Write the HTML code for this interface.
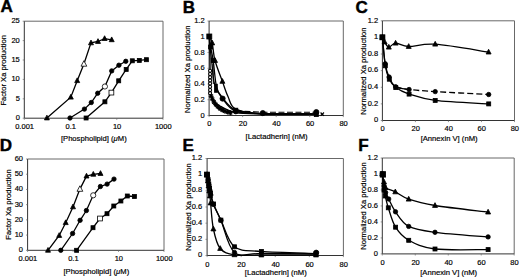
<!DOCTYPE html>
<html><head><meta charset="utf-8"><style>
html,body{margin:0;padding:0;background:#fff;}
svg{display:block;font-family:"Liberation Sans",sans-serif;}
text{fill:#000;stroke:#000;stroke-width:0.18px;} text.big{stroke-width:0.45px;}
</style></head><body>
<svg width="520" height="279" viewBox="0 0 520 279">
<rect width="520" height="279" fill="#fff"/>
<text x="0.4" y="12.4" font-size="17" text-anchor="start" font-weight="bold" class="big">A</text>
<text x="182.8" y="12.6" font-size="17" text-anchor="start" font-weight="bold" class="big">B</text>
<text x="355.6" y="12.6" font-size="17" text-anchor="start" font-weight="bold" class="big">C</text>
<text x="-0.2" y="150.9" font-size="17" text-anchor="start" font-weight="bold" class="big">D</text>
<text x="182.6" y="150.6" font-size="17" text-anchor="start" font-weight="bold" class="big">E</text>
<text x="358.2" y="150.6" font-size="17" text-anchor="start" font-weight="bold" class="big">F</text>
<path d="M24.3,21.2H163V118.2" fill="none" stroke="#686868" stroke-width="1"/>
<path d="M24.3,21.2V118.2H163" fill="none" stroke="#333" stroke-width="1"/>
<line x1="22.7" y1="118.2" x2="24.3" y2="118.2" stroke="#686868" stroke-width="0.7" />
<text x="19.8" y="120.2" font-size="7.5" text-anchor="end" font-weight="normal" >0</text>
<line x1="22.7" y1="98.8" x2="24.3" y2="98.8" stroke="#686868" stroke-width="0.7" />
<text x="19.8" y="100.8" font-size="7.5" text-anchor="end" font-weight="normal" >5</text>
<line x1="22.7" y1="79.4" x2="24.3" y2="79.4" stroke="#686868" stroke-width="0.7" />
<text x="19.8" y="81.4" font-size="7.5" text-anchor="end" font-weight="normal" >10</text>
<line x1="22.7" y1="60" x2="24.3" y2="60" stroke="#686868" stroke-width="0.7" />
<text x="19.8" y="62" font-size="7.5" text-anchor="end" font-weight="normal" >15</text>
<line x1="22.7" y1="40.6" x2="24.3" y2="40.6" stroke="#686868" stroke-width="0.7" />
<text x="19.8" y="42.6" font-size="7.5" text-anchor="end" font-weight="normal" >20</text>
<line x1="22.7" y1="21.2" x2="24.3" y2="21.2" stroke="#686868" stroke-width="0.7" />
<text x="19.8" y="23.2" font-size="7.5" text-anchor="end" font-weight="normal" >25</text>
<line x1="24.3" y1="118.2" x2="24.3" y2="119.8" stroke="#686868" stroke-width="0.7" />
<text x="24.6" y="129.1" font-size="7.5" text-anchor="middle" font-weight="normal" >0.001</text>
<line x1="70.53" y1="118.2" x2="70.53" y2="119.8" stroke="#686868" stroke-width="0.7" />
<text x="70.83" y="129.1" font-size="7.5" text-anchor="middle" font-weight="normal" >0.1</text>
<line x1="116.77" y1="118.2" x2="116.77" y2="119.8" stroke="#686868" stroke-width="0.7" />
<text x="117.07" y="129.1" font-size="7.5" text-anchor="middle" font-weight="normal" >10</text>
<line x1="163" y1="118.2" x2="163" y2="119.8" stroke="#686868" stroke-width="0.7" />
<text x="163.3" y="129.1" font-size="7.5" text-anchor="middle" font-weight="normal" >1000</text>
<text x="0" y="0" font-size="7.6" text-anchor="middle" transform="translate(6.1,70.3) rotate(-90)">Factor Xa production</text>
<text x="93.8" y="141.1" font-size="7.65" text-anchor="middle" font-weight="normal" >[Phospholipid] (<tspan font-style="italic">μ</tspan>M)</text>
<polyline points="46.9,118 70.8,97.2 77.2,80.7 83.9,64 91,42.9 98,41.5 104.6,38.6 111.7,39.8" fill="none" stroke="#000" stroke-width="1.3"/>
<polygon points="46.9,115.15 44.4,119.9 49.4,119.9" fill="#000" stroke="#000" stroke-width="0.8" stroke-linejoin="round"/>
<polygon points="70.8,94.35 68.3,99.1 73.3,99.1" fill="#000" stroke="#000" stroke-width="0.8" stroke-linejoin="round"/>
<polygon points="77.2,77.85 74.7,82.6 79.7,82.6" fill="#000" stroke="#000" stroke-width="0.8" stroke-linejoin="round"/>
<polygon points="83.9,60.69 81,66.2 86.8,66.2" fill="#fff" stroke="#000" stroke-width="0.8" stroke-linejoin="round"/>
<polygon points="91,40.05 88.5,44.8 93.5,44.8" fill="#000" stroke="#000" stroke-width="0.8" stroke-linejoin="round"/>
<polygon points="98,38.65 95.5,43.4 100.5,43.4" fill="#000" stroke="#000" stroke-width="0.8" stroke-linejoin="round"/>
<polygon points="104.6,35.75 102.1,40.5 107.1,40.5" fill="#000" stroke="#000" stroke-width="0.8" stroke-linejoin="round"/>
<polygon points="111.7,36.95 109.2,41.7 114.2,41.7" fill="#000" stroke="#000" stroke-width="0.8" stroke-linejoin="round"/>
<polyline points="70,118 84.4,109.1 91.3,102.5 97.7,93.2 104.9,86.5 111.7,70.9 118.9,65.2 125.8,61.3" fill="none" stroke="#000" stroke-width="1.3"/>
<circle cx="70" cy="118" r="2.2" fill="#000" stroke="#000" stroke-width="0.8"/>
<circle cx="84.4" cy="109.1" r="2.2" fill="#000" stroke="#000" stroke-width="0.8"/>
<circle cx="91.3" cy="102.5" r="2.2" fill="#000" stroke="#000" stroke-width="0.8"/>
<circle cx="97.7" cy="93.2" r="2.2" fill="#000" stroke="#000" stroke-width="0.8"/>
<circle cx="104.9" cy="86.5" r="2.6" fill="#fff" stroke="#000" stroke-width="0.8"/>
<circle cx="111.7" cy="70.9" r="2.2" fill="#000" stroke="#000" stroke-width="0.8"/>
<circle cx="118.9" cy="65.2" r="2.2" fill="#000" stroke="#000" stroke-width="0.8"/>
<circle cx="125.8" cy="61.3" r="2.2" fill="#000" stroke="#000" stroke-width="0.8"/>
<polyline points="86.1,118 104.9,101.8 111.4,92.6 118.7,80.8 126.2,69.4 132.3,60.8 139.3,60.4 146.4,59.7" fill="none" stroke="#000" stroke-width="1.3"/>
<rect x="84.1" y="116" width="4" height="4" fill="#000" stroke="#000" stroke-width="0.8"/>
<rect x="102.9" y="99.8" width="4" height="4" fill="#000" stroke="#000" stroke-width="0.8"/>
<rect x="109" y="90.2" width="4.8" height="4.8" fill="#fff" stroke="#000" stroke-width="0.8"/>
<rect x="116.7" y="78.8" width="4" height="4" fill="#000" stroke="#000" stroke-width="0.8"/>
<rect x="124.2" y="67.4" width="4" height="4" fill="#000" stroke="#000" stroke-width="0.8"/>
<rect x="130.3" y="58.8" width="4" height="4" fill="#000" stroke="#000" stroke-width="0.8"/>
<rect x="137.3" y="58.4" width="4" height="4" fill="#000" stroke="#000" stroke-width="0.8"/>
<rect x="144.4" y="57.7" width="4" height="4" fill="#000" stroke="#000" stroke-width="0.8"/>
<path d="M27.6,159H164V250.3" fill="none" stroke="#686868" stroke-width="1"/>
<path d="M27.6,159V250.3H164" fill="none" stroke="#333" stroke-width="1"/>
<line x1="26" y1="250.3" x2="27.6" y2="250.3" stroke="#686868" stroke-width="0.7" />
<text x="23" y="252.3" font-size="7.5" text-anchor="end" font-weight="normal" >0</text>
<line x1="26" y1="235.08" x2="27.6" y2="235.08" stroke="#686868" stroke-width="0.7" />
<text x="23" y="237.08" font-size="7.5" text-anchor="end" font-weight="normal" >10</text>
<line x1="26" y1="219.87" x2="27.6" y2="219.87" stroke="#686868" stroke-width="0.7" />
<text x="23" y="221.87" font-size="7.5" text-anchor="end" font-weight="normal" >20</text>
<line x1="26" y1="204.65" x2="27.6" y2="204.65" stroke="#686868" stroke-width="0.7" />
<text x="23" y="206.65" font-size="7.5" text-anchor="end" font-weight="normal" >30</text>
<line x1="26" y1="189.43" x2="27.6" y2="189.43" stroke="#686868" stroke-width="0.7" />
<text x="23" y="191.43" font-size="7.5" text-anchor="end" font-weight="normal" >40</text>
<line x1="26" y1="174.22" x2="27.6" y2="174.22" stroke="#686868" stroke-width="0.7" />
<text x="23" y="176.22" font-size="7.5" text-anchor="end" font-weight="normal" >50</text>
<line x1="26" y1="159" x2="27.6" y2="159" stroke="#686868" stroke-width="0.7" />
<text x="23" y="161" font-size="7.5" text-anchor="end" font-weight="normal" >60</text>
<line x1="27.6" y1="250.3" x2="27.6" y2="251.9" stroke="#686868" stroke-width="0.7" />
<text x="27.9" y="261.3" font-size="7.5" text-anchor="middle" font-weight="normal" >0.001</text>
<line x1="73.07" y1="250.3" x2="73.07" y2="251.9" stroke="#686868" stroke-width="0.7" />
<text x="73.37" y="261.3" font-size="7.5" text-anchor="middle" font-weight="normal" >0.1</text>
<line x1="118.53" y1="250.3" x2="118.53" y2="251.9" stroke="#686868" stroke-width="0.7" />
<text x="118.83" y="261.3" font-size="7.5" text-anchor="middle" font-weight="normal" >10</text>
<line x1="164" y1="250.3" x2="164" y2="251.9" stroke="#686868" stroke-width="0.7" />
<text x="164.3" y="261.3" font-size="7.5" text-anchor="middle" font-weight="normal" >1000</text>
<text x="0" y="0" font-size="7.6" text-anchor="middle" transform="translate(10.6,204.5) rotate(-90)">Factor Xa production</text>
<text x="96.3" y="273.5" font-size="7.65" text-anchor="middle" font-weight="normal" >[Phospholipid] (<tspan font-style="italic">μ</tspan>M)</text>
<polyline points="48,250.3 59.2,235.5 65.7,222.7 73,206.9 79.9,189.1 86.5,176.1 93.3,174.3 100.5,173.5" fill="none" stroke="#000" stroke-width="1.3"/>
<polygon points="48,247.45 45.5,252.2 50.5,252.2" fill="#000" stroke="#000" stroke-width="0.8" stroke-linejoin="round"/>
<polygon points="59.2,232.65 56.7,237.4 61.7,237.4" fill="#000" stroke="#000" stroke-width="0.8" stroke-linejoin="round"/>
<polygon points="65.7,219.85 63.2,224.6 68.2,224.6" fill="#000" stroke="#000" stroke-width="0.8" stroke-linejoin="round"/>
<polygon points="73,204.05 70.5,208.8 75.5,208.8" fill="#000" stroke="#000" stroke-width="0.8" stroke-linejoin="round"/>
<polygon points="79.9,185.79 77,191.3 82.8,191.3" fill="#fff" stroke="#000" stroke-width="0.8" stroke-linejoin="round"/>
<polygon points="86.5,173.25 84,178 89,178" fill="#000" stroke="#000" stroke-width="0.8" stroke-linejoin="round"/>
<polygon points="93.3,171.45 90.8,176.2 95.8,176.2" fill="#000" stroke="#000" stroke-width="0.8" stroke-linejoin="round"/>
<polygon points="100.5,170.65 98,175.4 103,175.4" fill="#000" stroke="#000" stroke-width="0.8" stroke-linejoin="round"/>
<polyline points="60.8,250.3 72.6,233.5 80.1,220.3 86.4,210.5 93.2,195.3 100.4,186.5 107.1,184.1 114,179.1" fill="none" stroke="#000" stroke-width="1.3"/>
<circle cx="60.8" cy="250.3" r="2.2" fill="#000" stroke="#000" stroke-width="0.8"/>
<circle cx="72.6" cy="233.5" r="2.2" fill="#000" stroke="#000" stroke-width="0.8"/>
<circle cx="80.1" cy="220.3" r="2.2" fill="#000" stroke="#000" stroke-width="0.8"/>
<circle cx="86.4" cy="210.5" r="2.2" fill="#000" stroke="#000" stroke-width="0.8"/>
<circle cx="93.2" cy="195.3" r="2.6" fill="#fff" stroke="#000" stroke-width="0.8"/>
<circle cx="100.4" cy="186.5" r="2.2" fill="#000" stroke="#000" stroke-width="0.8"/>
<circle cx="107.1" cy="184.1" r="2.2" fill="#000" stroke="#000" stroke-width="0.8"/>
<circle cx="114" cy="179.1" r="2.2" fill="#000" stroke="#000" stroke-width="0.8"/>
<polyline points="76.6,250.3 93,227.7 100,218.5 107,213.7 113.8,206 120.9,201 127.3,196 134.4,196.5" fill="none" stroke="#000" stroke-width="1.3"/>
<rect x="74.6" y="248.3" width="4" height="4" fill="#000" stroke="#000" stroke-width="0.8"/>
<rect x="91" y="225.7" width="4" height="4" fill="#000" stroke="#000" stroke-width="0.8"/>
<rect x="97.6" y="216.1" width="4.8" height="4.8" fill="#fff" stroke="#000" stroke-width="0.8"/>
<rect x="105" y="211.7" width="4" height="4" fill="#000" stroke="#000" stroke-width="0.8"/>
<rect x="111.8" y="204" width="4" height="4" fill="#000" stroke="#000" stroke-width="0.8"/>
<rect x="118.9" y="199" width="4" height="4" fill="#000" stroke="#000" stroke-width="0.8"/>
<rect x="125.3" y="194" width="4" height="4" fill="#000" stroke="#000" stroke-width="0.8"/>
<rect x="132.4" y="194.5" width="4" height="4" fill="#000" stroke="#000" stroke-width="0.8"/>
<path d="M209.1,21H343.3V115.5" fill="none" stroke="#686868" stroke-width="1"/>
<path d="M209.1,21V115.5H343.3" fill="none" stroke="#333" stroke-width="1"/>
<line x1="207.5" y1="115.5" x2="209.1" y2="115.5" stroke="#686868" stroke-width="0.7" />
<text x="204.6" y="117.5" font-size="7.5" text-anchor="end" font-weight="normal" >0</text>
<line x1="207.5" y1="99.75" x2="209.1" y2="99.75" stroke="#686868" stroke-width="0.7" />
<text x="204.6" y="101.75" font-size="7.5" text-anchor="end" font-weight="normal" >0.2</text>
<line x1="207.5" y1="84" x2="209.1" y2="84" stroke="#686868" stroke-width="0.7" />
<text x="204.6" y="86" font-size="7.5" text-anchor="end" font-weight="normal" >0.4</text>
<line x1="207.5" y1="68.25" x2="209.1" y2="68.25" stroke="#686868" stroke-width="0.7" />
<text x="204.6" y="70.25" font-size="7.5" text-anchor="end" font-weight="normal" >0.6</text>
<line x1="207.5" y1="52.5" x2="209.1" y2="52.5" stroke="#686868" stroke-width="0.7" />
<text x="204.6" y="54.5" font-size="7.5" text-anchor="end" font-weight="normal" >0.8</text>
<line x1="207.5" y1="36.75" x2="209.1" y2="36.75" stroke="#686868" stroke-width="0.7" />
<text x="204.6" y="38.75" font-size="7.5" text-anchor="end" font-weight="normal" >1</text>
<line x1="207.5" y1="21" x2="209.1" y2="21" stroke="#686868" stroke-width="0.7" />
<text x="204.6" y="23" font-size="7.5" text-anchor="end" font-weight="normal" >1.2</text>
<line x1="209.1" y1="115.5" x2="209.1" y2="117.1" stroke="#686868" stroke-width="0.7" />
<text x="209.4" y="126.2" font-size="7.5" text-anchor="middle" font-weight="normal" >0</text>
<line x1="242.65" y1="115.5" x2="242.65" y2="117.1" stroke="#686868" stroke-width="0.7" />
<text x="242.95" y="126.2" font-size="7.5" text-anchor="middle" font-weight="normal" >20</text>
<line x1="276.2" y1="115.5" x2="276.2" y2="117.1" stroke="#686868" stroke-width="0.7" />
<text x="276.5" y="126.2" font-size="7.5" text-anchor="middle" font-weight="normal" >40</text>
<line x1="309.75" y1="115.5" x2="309.75" y2="117.1" stroke="#686868" stroke-width="0.7" />
<text x="310.05" y="126.2" font-size="7.5" text-anchor="middle" font-weight="normal" >60</text>
<line x1="343.3" y1="115.5" x2="343.3" y2="117.1" stroke="#686868" stroke-width="0.7" />
<text x="343.6" y="126.2" font-size="7.5" text-anchor="middle" font-weight="normal" >80</text>
<text x="0" y="0" font-size="7.6" text-anchor="middle" transform="translate(189.8,69.25) rotate(-90)">Normalized Xa production</text>
<text x="276.6" y="138.5" font-size="7.65" text-anchor="middle" font-weight="normal" >[Lactadherin] (nM)</text>
<polyline points="236,111 262.8,112.2 316.3,112.3 322.3,114.2" fill="none" stroke="#000" stroke-width="1.1" stroke-dasharray="6,2.5"/>
<path d="M209.3,36.5 C209.78,37.58 211.25,39 212.2,43 C213.15,47 213.3,54.1 215,60.5 C216.7,66.9 220.23,75.4 222.4,81.4 C224.57,87.4 225.77,91.87 228,96.5 C230.23,101.13 230,106.3 235.8,109.2 C241.6,112.1 249.38,113.08 262.8,113.9 C276.22,114.72 307.38,114.07 316.3,114.1" fill="none" stroke="#000" stroke-width="1.3"/>
<path d="M209.3,36.5 C209.52,38.25 209.95,43 210.6,47 C211.25,51 212.2,53.8 213.2,60.5 C214.2,67.2 215.07,81.03 216.6,87.2 C218.13,93.37 219.2,93.67 222.4,97.5 C225.6,101.33 229.07,107.45 235.8,110.2 C242.53,112.95 249.38,113.33 262.8,114 C276.22,114.67 307.38,114.17 316.3,114.2" fill="none" stroke="#000" stroke-width="1.3"/>
<path d="M209.3,36.5 C209.45,38.42 209.78,43.75 210.2,48 C210.62,52.25 211.08,56 211.8,62 C212.52,68 212.7,77.9 214.5,84 C216.3,90.1 219.05,94.05 222.6,98.6 C226.15,103.15 229.1,108.83 235.8,111.3 C242.5,113.77 249.38,112.98 262.8,113.4 C276.22,113.82 307.38,113.73 316.3,113.8" fill="none" stroke="#000" stroke-width="1.3"/>
<path d="M209.3,36.5 C209.4,39.58 209.77,49.42 209.9,55 C210.03,60.58 210.05,63.83 210.1,70 C210.15,76.17 209.78,87.17 210.2,92 C210.62,96.83 210.97,96.67 212.6,99 C214.23,101.33 216.13,103.73 220,106 C223.87,108.27 228.67,111.27 235.8,112.6 C242.93,113.93 258.3,113.77 262.8,114" fill="none" stroke="#000" stroke-width="1.3"/>
<circle cx="210.1" cy="70.8" r="1.55" fill="#fff" stroke="#000" stroke-width="1.05"/>
<circle cx="210.1" cy="74.0" r="1.55" fill="#fff" stroke="#000" stroke-width="1.05"/>
<circle cx="210.1" cy="77.2" r="1.55" fill="#fff" stroke="#000" stroke-width="1.05"/>
<circle cx="210.1" cy="80.4" r="1.55" fill="#fff" stroke="#000" stroke-width="1.05"/>
<circle cx="210.1" cy="83.6" r="1.55" fill="#fff" stroke="#000" stroke-width="1.05"/>
<circle cx="210.1" cy="86.8" r="1.55" fill="#fff" stroke="#000" stroke-width="1.05"/>
<circle cx="210.1" cy="90.0" r="1.55" fill="#fff" stroke="#000" stroke-width="1.05"/>
<circle cx="210.1" cy="93.2" r="1.55" fill="#fff" stroke="#000" stroke-width="1.05"/>
<path d="M208.7,96.2L213.7,96.2M211.2,93.7L211.2,98.7M209.45,94.45L212.95,97.95M209.45,97.95L212.95,94.45" stroke="#000" stroke-width="1.1"/>
<path d="M209.9,99.2L214.9,99.2M212.4,96.7L212.4,101.7M210.65,97.45L214.15,100.95M210.65,100.95L214.15,97.45" stroke="#000" stroke-width="1.1"/>
<path d="M211.4,102L216.4,102M213.9,99.5L213.9,104.5M212.15,100.25L215.65,103.75M212.15,103.75L215.65,100.25" stroke="#000" stroke-width="1.1"/>
<path d="M213.2,104.5L218.2,104.5M215.7,102L215.7,107M213.95,102.75L217.45,106.25M213.95,106.25L217.45,102.75" stroke="#000" stroke-width="1.1"/>
<path d="M215.2,106.7L220.2,106.7M217.7,104.2L217.7,109.2M215.95,104.95L219.45,108.45M215.95,108.45L219.45,104.95" stroke="#000" stroke-width="1.1"/>
<path d="M217.4,108.5L222.4,108.5M219.9,106L219.9,111M218.15,106.75L221.65,110.25M218.15,110.25L221.65,106.75" stroke="#000" stroke-width="1.1"/>
<path d="M219.8,110L224.8,110M222.3,107.5L222.3,112.5M220.55,108.25L224.05,111.75M220.55,111.75L224.05,108.25" stroke="#000" stroke-width="1.1"/>
<path d="M222.4,111.2L227.4,111.2M224.9,108.7L224.9,113.7M223.15,109.45L226.65,112.95M223.15,112.95L226.65,109.45" stroke="#000" stroke-width="1.1"/>
<path d="M225.1,112.1L230.1,112.1M227.6,109.6L227.6,114.6M225.85,110.35L229.35,113.85M225.85,113.85L229.35,110.35" stroke="#000" stroke-width="1.1"/>
<path d="M227.9,112.8L232.9,112.8M230.4,110.3L230.4,115.3M228.65,111.05L232.15,114.55M228.65,114.55L232.15,111.05" stroke="#000" stroke-width="1.1"/>
<polygon points="212.2,40.15 209.7,44.9 214.7,44.9" fill="#000" stroke="#000" stroke-width="0.8" stroke-linejoin="round"/>
<polygon points="215,57.65 212.5,62.4 217.5,62.4" fill="#000" stroke="#000" stroke-width="0.8" stroke-linejoin="round"/>
<polygon points="222.4,78.55 219.9,83.3 224.9,83.3" fill="#000" stroke="#000" stroke-width="0.8" stroke-linejoin="round"/>
<rect x="208.6" y="45" width="4" height="4" fill="#000" stroke="#000" stroke-width="0.8"/>
<rect x="211.2" y="58.5" width="4" height="4" fill="#000" stroke="#000" stroke-width="0.8"/>
<rect x="233.8" y="108.2" width="4" height="4" fill="#000" stroke="#000" stroke-width="0.8"/>
<rect x="314.3" y="112.6" width="4" height="4" fill="#000" stroke="#000" stroke-width="0.8"/>
<rect x="214.1" y="83.8" width="3.7" height="9" fill="#000"/>
<line x1="213.1" y1="64" x2="213.3" y2="84" stroke="#000" stroke-width="0.9" />
<circle cx="222.6" cy="98.6" r="2.6" fill="#000" stroke="#000" stroke-width="0.8"/>
<circle cx="235.8" cy="111.3" r="2.6" fill="#000" stroke="#000" stroke-width="0.8"/>
<circle cx="262.8" cy="113.1" r="2.6" fill="#000" stroke="#000" stroke-width="0.8"/>
<circle cx="316.3" cy="112.1" r="2.6" fill="#000" stroke="#000" stroke-width="0.8"/>
<path d="M320.6,112.5L324,115.9M320.6,115.9L324,112.5" stroke="#000" stroke-width="1.1"/>
<rect x="206.8" y="34" width="5" height="5" fill="#000" stroke="#000" stroke-width="0.8"/>
<path d="M382.4,20.8H514.5V120.5" fill="none" stroke="#686868" stroke-width="1"/>
<path d="M382.4,20.8V120.5H514.5" fill="none" stroke="#333" stroke-width="1"/>
<line x1="380.8" y1="120.5" x2="382.4" y2="120.5" stroke="#686868" stroke-width="0.7" />
<text x="378.1" y="122.3" font-size="7.5" text-anchor="end" font-weight="normal" >0</text>
<line x1="380.8" y1="103.88" x2="382.4" y2="103.88" stroke="#686868" stroke-width="0.7" />
<text x="378.1" y="105.68" font-size="7.5" text-anchor="end" font-weight="normal" >0.2</text>
<line x1="380.8" y1="87.27" x2="382.4" y2="87.27" stroke="#686868" stroke-width="0.7" />
<text x="378.1" y="89.07" font-size="7.5" text-anchor="end" font-weight="normal" >0.4</text>
<line x1="380.8" y1="70.65" x2="382.4" y2="70.65" stroke="#686868" stroke-width="0.7" />
<text x="378.1" y="72.45" font-size="7.5" text-anchor="end" font-weight="normal" >0.6</text>
<line x1="380.8" y1="54.03" x2="382.4" y2="54.03" stroke="#686868" stroke-width="0.7" />
<text x="378.1" y="55.83" font-size="7.5" text-anchor="end" font-weight="normal" >0.8</text>
<line x1="380.8" y1="37.42" x2="382.4" y2="37.42" stroke="#686868" stroke-width="0.7" />
<text x="378.1" y="39.22" font-size="7.5" text-anchor="end" font-weight="normal" >1</text>
<line x1="380.8" y1="20.8" x2="382.4" y2="20.8" stroke="#686868" stroke-width="0.7" />
<text x="378.1" y="22.6" font-size="7.5" text-anchor="end" font-weight="normal" >1.2</text>
<line x1="382.4" y1="120.5" x2="382.4" y2="122.1" stroke="#686868" stroke-width="0.7" />
<text x="382.7" y="131.1" font-size="7.5" text-anchor="middle" font-weight="normal" >0</text>
<line x1="415.42" y1="120.5" x2="415.42" y2="122.1" stroke="#686868" stroke-width="0.7" />
<text x="415.72" y="131.1" font-size="7.5" text-anchor="middle" font-weight="normal" >20</text>
<line x1="448.45" y1="120.5" x2="448.45" y2="122.1" stroke="#686868" stroke-width="0.7" />
<text x="448.75" y="131.1" font-size="7.5" text-anchor="middle" font-weight="normal" >40</text>
<line x1="481.48" y1="120.5" x2="481.48" y2="122.1" stroke="#686868" stroke-width="0.7" />
<text x="481.78" y="131.1" font-size="7.5" text-anchor="middle" font-weight="normal" >60</text>
<line x1="514.5" y1="120.5" x2="514.5" y2="122.1" stroke="#686868" stroke-width="0.7" />
<text x="514.8" y="131.1" font-size="7.5" text-anchor="middle" font-weight="normal" >80</text>
<text x="0" y="0" font-size="7.6" text-anchor="middle" transform="translate(365.5,71.15) rotate(-90)">Normalized Xa production</text>
<text x="449.1" y="140.7" font-size="7.65" text-anchor="middle" font-weight="normal" >[Annexin V] (nM)</text>
<path d="M382.4,37.3 C382.77,38.08 383.53,40.35 384.6,42 C385.67,43.65 386.97,47 388.8,47.2 C390.63,47.4 392.28,43.32 395.6,43.2 C398.92,43.08 402.1,46.33 408.7,46.5 C415.3,46.67 421.88,43.27 435.2,44.2 C448.52,45.13 479.7,50.78 488.6,52.1" fill="none" stroke="#000" stroke-width="1.3"/>
<polygon points="382.4,34.45 379.9,39.2 384.9,39.2" fill="#000" stroke="#000" stroke-width="0.8" stroke-linejoin="round"/>
<polygon points="384.6,39.15 382.1,43.9 387.1,43.9" fill="#000" stroke="#000" stroke-width="0.8" stroke-linejoin="round"/>
<polygon points="388.8,44.35 386.3,49.1 391.3,49.1" fill="#000" stroke="#000" stroke-width="0.8" stroke-linejoin="round"/>
<polygon points="395.6,40.35 393.1,45.1 398.1,45.1" fill="#000" stroke="#000" stroke-width="0.8" stroke-linejoin="round"/>
<polygon points="408.7,43.65 406.2,48.4 411.2,48.4" fill="#000" stroke="#000" stroke-width="0.8" stroke-linejoin="round"/>
<polygon points="435.2,41.35 432.7,46.1 437.7,46.1" fill="#000" stroke="#000" stroke-width="0.8" stroke-linejoin="round"/>
<polygon points="488.6,49.25 486.1,54 491.1,54" fill="#000" stroke="#000" stroke-width="0.8" stroke-linejoin="round"/>
<path d="M382.4,37.3 C382.87,41.72 384.08,57.18 385.2,63.8 C386.32,70.42 387.37,73.17 389.1,77 C390.83,80.83 392.27,84.72 395.6,86.8 C398.93,88.88 406.85,89.05 409.1,89.5" fill="none" stroke="#000" stroke-width="1.3"/>
<path d="M395.6,86.8 C397.85,87.25 402.5,88.7 409.1,89.5 C415.7,90.3 421.93,90.77 435.2,91.6 C448.47,92.43 479.78,94.02 488.7,94.5" fill="none" stroke="#000" stroke-width="1.3" stroke-dasharray="6,3"/>
<circle cx="385.2" cy="63.8" r="2.2" fill="#000" stroke="#000" stroke-width="0.8"/>
<circle cx="389.1" cy="77" r="2.2" fill="#000" stroke="#000" stroke-width="0.8"/>
<circle cx="395.6" cy="86.8" r="2.2" fill="#000" stroke="#000" stroke-width="0.8"/>
<circle cx="409.1" cy="89.5" r="2.2" fill="#000" stroke="#000" stroke-width="0.8"/>
<circle cx="435.2" cy="91.6" r="2.2" fill="#000" stroke="#000" stroke-width="0.8"/>
<circle cx="488.7" cy="94.5" r="2.2" fill="#000" stroke="#000" stroke-width="0.8"/>
<path d="M382.4,37.3 C382.88,42.05 384.15,58.82 385.3,65.8 C386.45,72.78 387.55,75.57 389.3,79.2 C391.05,82.83 392.5,85.12 395.8,87.6 C399.1,90.08 402.53,91.97 409.1,94.1 C415.67,96.23 421.93,98.77 435.2,100.4 C448.47,102.03 479.78,103.32 488.7,103.9" fill="none" stroke="#000" stroke-width="1.3"/>
<rect x="380.4" y="35.3" width="4" height="4" fill="#000" stroke="#000" stroke-width="0.8"/>
<rect x="383.3" y="63.8" width="4" height="4" fill="#000" stroke="#000" stroke-width="0.8"/>
<rect x="387.3" y="77.2" width="4" height="4" fill="#000" stroke="#000" stroke-width="0.8"/>
<rect x="393.8" y="85.6" width="4" height="4" fill="#000" stroke="#000" stroke-width="0.8"/>
<rect x="407.1" y="92.1" width="4" height="4" fill="#000" stroke="#000" stroke-width="0.8"/>
<rect x="433.2" y="98.4" width="4" height="4" fill="#000" stroke="#000" stroke-width="0.8"/>
<rect x="486.7" y="101.9" width="4" height="4" fill="#000" stroke="#000" stroke-width="0.8"/>
<rect x="379.9" y="34.8" width="5" height="5" fill="#000" stroke="#000" stroke-width="0.8"/>
<path d="M207.1,158.5H343.4V255.5" fill="none" stroke="#686868" stroke-width="1"/>
<path d="M207.1,158.5V255.5H343.4" fill="none" stroke="#333" stroke-width="1"/>
<line x1="205.5" y1="255.5" x2="207.1" y2="255.5" stroke="#686868" stroke-width="0.7" />
<text x="202.1" y="257" font-size="7.5" text-anchor="end" font-weight="normal" >0</text>
<line x1="205.5" y1="239.33" x2="207.1" y2="239.33" stroke="#686868" stroke-width="0.7" />
<text x="202.1" y="240.83" font-size="7.5" text-anchor="end" font-weight="normal" >0.2</text>
<line x1="205.5" y1="223.17" x2="207.1" y2="223.17" stroke="#686868" stroke-width="0.7" />
<text x="202.1" y="224.67" font-size="7.5" text-anchor="end" font-weight="normal" >0.4</text>
<line x1="205.5" y1="207" x2="207.1" y2="207" stroke="#686868" stroke-width="0.7" />
<text x="202.1" y="208.5" font-size="7.5" text-anchor="end" font-weight="normal" >0.6</text>
<line x1="205.5" y1="190.83" x2="207.1" y2="190.83" stroke="#686868" stroke-width="0.7" />
<text x="202.1" y="192.33" font-size="7.5" text-anchor="end" font-weight="normal" >0.8</text>
<line x1="205.5" y1="174.67" x2="207.1" y2="174.67" stroke="#686868" stroke-width="0.7" />
<text x="202.1" y="176.17" font-size="7.5" text-anchor="end" font-weight="normal" >1</text>
<line x1="205.5" y1="158.5" x2="207.1" y2="158.5" stroke="#686868" stroke-width="0.7" />
<text x="202.1" y="160" font-size="7.5" text-anchor="end" font-weight="normal" >1.2</text>
<line x1="207.1" y1="255.5" x2="207.1" y2="257.1" stroke="#686868" stroke-width="0.7" />
<text x="207.4" y="266.6" font-size="7.5" text-anchor="middle" font-weight="normal" >0</text>
<line x1="241.17" y1="255.5" x2="241.17" y2="257.1" stroke="#686868" stroke-width="0.7" />
<text x="241.47" y="266.6" font-size="7.5" text-anchor="middle" font-weight="normal" >20</text>
<line x1="275.25" y1="255.5" x2="275.25" y2="257.1" stroke="#686868" stroke-width="0.7" />
<text x="275.55" y="266.6" font-size="7.5" text-anchor="middle" font-weight="normal" >40</text>
<line x1="309.32" y1="255.5" x2="309.32" y2="257.1" stroke="#686868" stroke-width="0.7" />
<text x="309.62" y="266.6" font-size="7.5" text-anchor="middle" font-weight="normal" >60</text>
<line x1="343.4" y1="255.5" x2="343.4" y2="257.1" stroke="#686868" stroke-width="0.7" />
<text x="343.7" y="266.6" font-size="7.5" text-anchor="middle" font-weight="normal" >80</text>
<text x="0" y="0" font-size="7.6" text-anchor="middle" transform="translate(190.6,207.05) rotate(-90)">Normalized Xa production</text>
<text x="275.8" y="275.4" font-size="7.65" text-anchor="middle" font-weight="normal" >[Lactadherin] (nM)</text>
<path d="M207,174.6 C207.2,175.5 207.87,178.27 208.2,180 C208.53,181.73 208.73,183.33 209,185 C209.27,186.67 209.5,188.33 209.8,190 C210.1,191.67 210.23,192.63 210.8,195 C211.37,197.37 211.52,199.98 213.2,204.2 C214.88,208.42 217.35,212.25 220.9,220.3 C224.45,228.35 227.75,246.98 234.5,252.5 C241.25,258.02 247.82,253.18 261.4,253.4 C274.98,253.62 306.9,253.73 316,253.8" fill="none" stroke="#000" stroke-width="1.3"/>
<circle cx="207" cy="174.6" r="2.2" fill="#000" stroke="#000" stroke-width="0.8"/>
<circle cx="208.2" cy="180" r="2.2" fill="#000" stroke="#000" stroke-width="0.8"/>
<circle cx="209" cy="185" r="2.2" fill="#000" stroke="#000" stroke-width="0.8"/>
<circle cx="209.8" cy="190" r="2.2" fill="#000" stroke="#000" stroke-width="0.8"/>
<circle cx="210.8" cy="195" r="2.2" fill="#000" stroke="#000" stroke-width="0.8"/>
<circle cx="213.2" cy="204.2" r="2.2" fill="#000" stroke="#000" stroke-width="0.8"/>
<circle cx="220.9" cy="220.3" r="2.2" fill="#000" stroke="#000" stroke-width="0.8"/>
<circle cx="234.5" cy="252.5" r="2.2" fill="#000" stroke="#000" stroke-width="0.8"/>
<circle cx="261.4" cy="253.4" r="2.2" fill="#000" stroke="#000" stroke-width="0.8"/>
<circle cx="316" cy="253.8" r="2.2" fill="#000" stroke="#000" stroke-width="0.8"/>
<path d="M207,174.6 C207.17,175.42 207.7,177.93 208,179.5 C208.3,181.07 208.53,182.5 208.8,184 C209.07,185.5 209.3,187 209.6,188.5 C209.9,190 209.93,190.42 210.6,193 C211.27,195.58 211.88,199.48 213.6,204 C215.32,208.52 217.42,212.97 220.9,220.1 C224.38,227.23 227.75,241.58 234.5,246.8 C241.25,252.02 247.82,250.27 261.4,251.4 C274.98,252.53 306.9,253.23 316,253.6" fill="none" stroke="#000" stroke-width="1.3"/>
<rect x="205" y="172.6" width="4" height="4" fill="#000" stroke="#000" stroke-width="0.8"/>
<rect x="206" y="177.5" width="4" height="4" fill="#000" stroke="#000" stroke-width="0.8"/>
<rect x="206.8" y="182" width="4" height="4" fill="#000" stroke="#000" stroke-width="0.8"/>
<rect x="207.6" y="186.5" width="4" height="4" fill="#000" stroke="#000" stroke-width="0.8"/>
<rect x="208.6" y="191" width="4" height="4" fill="#000" stroke="#000" stroke-width="0.8"/>
<rect x="211.6" y="202" width="4" height="4" fill="#000" stroke="#000" stroke-width="0.8"/>
<rect x="218.9" y="218.1" width="4" height="4" fill="#000" stroke="#000" stroke-width="0.8"/>
<rect x="232.5" y="244.8" width="4" height="4" fill="#000" stroke="#000" stroke-width="0.8"/>
<rect x="259.4" y="249.4" width="4" height="4" fill="#000" stroke="#000" stroke-width="0.8"/>
<rect x="314" y="251.6" width="4" height="4" fill="#000" stroke="#000" stroke-width="0.8"/>
<path d="M207,174.6 C207.15,175.67 207.63,179.1 207.9,181 C208.17,182.9 208.37,184.33 208.6,186 C208.83,187.67 209.07,189.33 209.3,191 C209.53,192.67 209.78,194 210,196 C210.22,198 210.03,197.5 210.6,203 C211.17,208.5 211.8,221.42 213.4,229 C215,236.58 216.68,244.2 220.2,248.5 C223.72,252.8 227.63,253.72 234.5,254.8 C241.37,255.88 247.82,254.97 261.4,255 C274.98,255.03 306.9,255 316,255" fill="none" stroke="#000" stroke-width="1.3"/>
<polygon points="207,171.75 204.5,176.5 209.5,176.5" fill="#000" stroke="#000" stroke-width="0.8" stroke-linejoin="round"/>
<polygon points="207.9,178.15 205.4,182.9 210.4,182.9" fill="#000" stroke="#000" stroke-width="0.8" stroke-linejoin="round"/>
<polygon points="208.6,183.15 206.1,187.9 211.1,187.9" fill="#000" stroke="#000" stroke-width="0.8" stroke-linejoin="round"/>
<polygon points="209.3,188.15 206.8,192.9 211.8,192.9" fill="#000" stroke="#000" stroke-width="0.8" stroke-linejoin="round"/>
<polygon points="210,193.15 207.5,197.9 212.5,197.9" fill="#000" stroke="#000" stroke-width="0.8" stroke-linejoin="round"/>
<polygon points="210.6,200.15 208.1,204.9 213.1,204.9" fill="#000" stroke="#000" stroke-width="0.8" stroke-linejoin="round"/>
<polygon points="213.4,226.15 210.9,230.9 215.9,230.9" fill="#000" stroke="#000" stroke-width="0.8" stroke-linejoin="round"/>
<polygon points="220.2,245.65 217.7,250.4 222.7,250.4" fill="#000" stroke="#000" stroke-width="0.8" stroke-linejoin="round"/>
<polygon points="234.5,251.95 232,256.7 237,256.7" fill="#000" stroke="#000" stroke-width="0.8" stroke-linejoin="round"/>
<polygon points="261.4,252.15 258.9,256.9 263.9,256.9" fill="#000" stroke="#000" stroke-width="0.8" stroke-linejoin="round"/>
<polygon points="316,252.15 313.5,256.9 318.5,256.9" fill="#000" stroke="#000" stroke-width="0.8" stroke-linejoin="round"/>
<circle cx="316.2" cy="252.6" r="2.5" fill="#000" stroke="#000" stroke-width="0.8"/>
<rect x="204.5" y="172.1" width="5" height="5" fill="#000" stroke="#000" stroke-width="0.8"/>
<path d="M382.3,158H514.2V253.9" fill="none" stroke="#686868" stroke-width="1"/>
<path d="M382.3,158V253.9H514.2" fill="none" stroke="#333" stroke-width="1"/>
<line x1="380.7" y1="253.9" x2="382.3" y2="253.9" stroke="#686868" stroke-width="0.7" />
<text x="378" y="255.9" font-size="7.5" text-anchor="end" font-weight="normal" >0</text>
<line x1="380.7" y1="237.92" x2="382.3" y2="237.92" stroke="#686868" stroke-width="0.7" />
<text x="378" y="239.92" font-size="7.5" text-anchor="end" font-weight="normal" >0.2</text>
<line x1="380.7" y1="221.93" x2="382.3" y2="221.93" stroke="#686868" stroke-width="0.7" />
<text x="378" y="223.93" font-size="7.5" text-anchor="end" font-weight="normal" >0.4</text>
<line x1="380.7" y1="205.95" x2="382.3" y2="205.95" stroke="#686868" stroke-width="0.7" />
<text x="378" y="207.95" font-size="7.5" text-anchor="end" font-weight="normal" >0.6</text>
<line x1="380.7" y1="189.97" x2="382.3" y2="189.97" stroke="#686868" stroke-width="0.7" />
<text x="378" y="191.97" font-size="7.5" text-anchor="end" font-weight="normal" >0.8</text>
<line x1="380.7" y1="173.98" x2="382.3" y2="173.98" stroke="#686868" stroke-width="0.7" />
<text x="378" y="175.98" font-size="7.5" text-anchor="end" font-weight="normal" >1</text>
<line x1="380.7" y1="158" x2="382.3" y2="158" stroke="#686868" stroke-width="0.7" />
<text x="378" y="160" font-size="7.5" text-anchor="end" font-weight="normal" >1.2</text>
<line x1="382.3" y1="253.9" x2="382.3" y2="255.5" stroke="#686868" stroke-width="0.7" />
<text x="382.6" y="265.4" font-size="7.5" text-anchor="middle" font-weight="normal" >0</text>
<line x1="415.28" y1="253.9" x2="415.28" y2="255.5" stroke="#686868" stroke-width="0.7" />
<text x="415.58" y="265.4" font-size="7.5" text-anchor="middle" font-weight="normal" >20</text>
<line x1="448.25" y1="253.9" x2="448.25" y2="255.5" stroke="#686868" stroke-width="0.7" />
<text x="448.55" y="265.4" font-size="7.5" text-anchor="middle" font-weight="normal" >40</text>
<line x1="481.23" y1="253.9" x2="481.23" y2="255.5" stroke="#686868" stroke-width="0.7" />
<text x="481.53" y="265.4" font-size="7.5" text-anchor="middle" font-weight="normal" >60</text>
<line x1="514.2" y1="253.9" x2="514.2" y2="255.5" stroke="#686868" stroke-width="0.7" />
<text x="514.5" y="265.4" font-size="7.5" text-anchor="middle" font-weight="normal" >80</text>
<text x="0" y="0" font-size="7.6" text-anchor="middle" transform="translate(365.9,205.95) rotate(-90)">Normalized Xa production</text>
<text x="448.65" y="275.3" font-size="7.65" text-anchor="middle" font-weight="normal" >[Annexin V] (nM)</text>
<path d="M382.3,174 C382.58,175.33 383.45,179.7 384,182 C384.55,184.3 383.72,186.15 385.6,187.8 C387.48,189.45 391.45,190 395.3,191.9 C399.15,193.8 402.08,196.93 408.7,199.2 C415.32,201.47 421.77,203.35 435,205.5 C448.23,207.65 479.25,211 488.1,212.1" fill="none" stroke="#000" stroke-width="1.3"/>
<polygon points="382.3,171.15 379.8,175.9 384.8,175.9" fill="#000" stroke="#000" stroke-width="0.8" stroke-linejoin="round"/>
<polygon points="384,179.15 381.5,183.9 386.5,183.9" fill="#000" stroke="#000" stroke-width="0.8" stroke-linejoin="round"/>
<polygon points="385.6,184.95 383.1,189.7 388.1,189.7" fill="#000" stroke="#000" stroke-width="0.8" stroke-linejoin="round"/>
<polygon points="395.3,189.05 392.8,193.8 397.8,193.8" fill="#000" stroke="#000" stroke-width="0.8" stroke-linejoin="round"/>
<polygon points="408.7,196.35 406.2,201.1 411.2,201.1" fill="#000" stroke="#000" stroke-width="0.8" stroke-linejoin="round"/>
<polygon points="435,202.65 432.5,207.4 437.5,207.4" fill="#000" stroke="#000" stroke-width="0.8" stroke-linejoin="round"/>
<polygon points="488.1,209.25 485.6,214 490.6,214" fill="#000" stroke="#000" stroke-width="0.8" stroke-linejoin="round"/>
<path d="M382.3,174 C382.58,176 383.45,182.9 384,186 C384.55,189.1 384.82,190.43 385.6,192.6 C386.38,194.77 387.05,195.8 388.7,199 C390.35,202.2 392.17,207.23 395.5,211.8 C398.83,216.37 402.12,222.98 408.7,226.4 C415.28,229.82 421.77,230.55 435,232.3 C448.23,234.05 479.25,236.13 488.1,236.9" fill="none" stroke="#000" stroke-width="1.3"/>
<circle cx="382.3" cy="174" r="2.2" fill="#000" stroke="#000" stroke-width="0.8"/>
<circle cx="384" cy="186" r="2.2" fill="#000" stroke="#000" stroke-width="0.8"/>
<circle cx="385.6" cy="192.6" r="2.2" fill="#000" stroke="#000" stroke-width="0.8"/>
<circle cx="388.7" cy="199" r="2.2" fill="#000" stroke="#000" stroke-width="0.8"/>
<circle cx="395.5" cy="211.8" r="2.2" fill="#000" stroke="#000" stroke-width="0.8"/>
<circle cx="408.7" cy="226.4" r="2.2" fill="#000" stroke="#000" stroke-width="0.8"/>
<circle cx="435" cy="232.3" r="2.2" fill="#000" stroke="#000" stroke-width="0.8"/>
<circle cx="488.1" cy="236.9" r="2.2" fill="#000" stroke="#000" stroke-width="0.8"/>
<path d="M382.3,174 C382.58,176.67 383.52,186.33 384,190 C384.48,193.67 384.48,193.03 385.2,196 C385.92,198.97 386.57,202.6 388.3,207.8 C390.03,213 392.2,221.78 395.6,227.2 C399,232.62 402.13,236.67 408.7,240.3 C415.27,243.93 421.77,247.45 435,249 C448.23,250.55 479.25,249.5 488.1,249.6" fill="none" stroke="#000" stroke-width="1.3"/>
<rect x="380.3" y="172" width="4" height="4" fill="#000" stroke="#000" stroke-width="0.8"/>
<rect x="382" y="188" width="4" height="4" fill="#000" stroke="#000" stroke-width="0.8"/>
<rect x="383.2" y="194" width="4" height="4" fill="#000" stroke="#000" stroke-width="0.8"/>
<rect x="386.3" y="205.8" width="4" height="4" fill="#000" stroke="#000" stroke-width="0.8"/>
<rect x="393.6" y="225.2" width="4" height="4" fill="#000" stroke="#000" stroke-width="0.8"/>
<rect x="406.7" y="238.3" width="4" height="4" fill="#000" stroke="#000" stroke-width="0.8"/>
<rect x="433" y="247" width="4" height="4" fill="#000" stroke="#000" stroke-width="0.8"/>
<rect x="486.1" y="247.6" width="4" height="4" fill="#000" stroke="#000" stroke-width="0.8"/>
<rect x="380.2" y="171.7" width="5.4" height="5.4" fill="#000" stroke="#000" stroke-width="0.8"/>
</svg>
</body></html>
